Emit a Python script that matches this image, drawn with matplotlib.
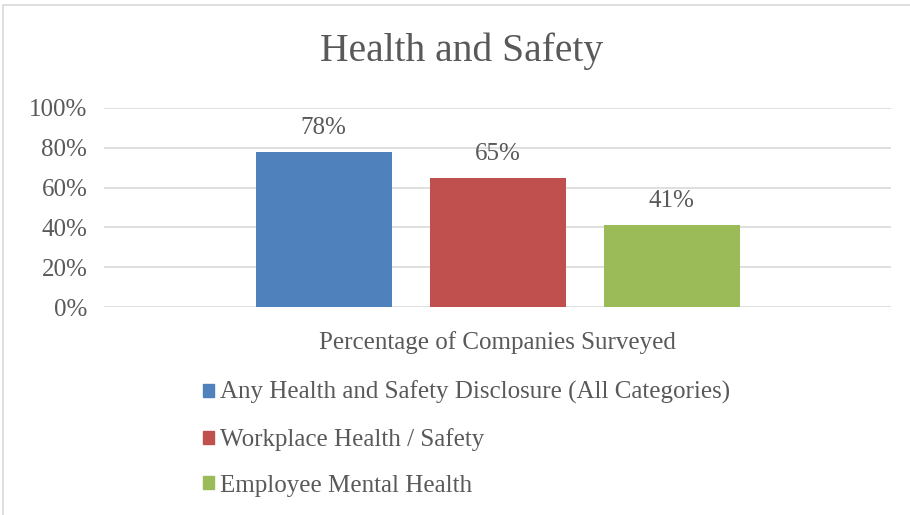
import matplotlib
matplotlib.use("Agg")
import matplotlib.pyplot as plt
from matplotlib.patches import Rectangle, Patch

plt.rcParams['font.family'] = ['Liberation Serif', 'DejaVu Serif']

title = "Health and Safety"
category = "Percentage of Companies Surveyed"
series_names = ["Any Health and Safety Disclosure (All Categories)",
                "Workplace Health / Safety",
                "Employee Mental Health"]
values = [0.78, 0.65, 0.41]
labels = ["78%", "65%", "41%"]
colors = ["#4F81BD", "#C0504D", "#9BBB59"]
yticks = [0, 0.2, 0.4, 0.6, 0.8, 1.0]
ytick_labels = ["0%", "20%", "40%", "60%", "80%", "100%"]

W, H = 910, 515
fig = plt.figure(figsize=(W/100, H/100), dpi=100)
ax = fig.add_axes([104/W, 1-307/H, 787/W, 199/H])

text_c = "#595959"
fs = 18
bw = 136/787
step = 174/787
for i, (v, lab, c) in enumerate(zip(values, labels, colors)):
    x = (i-1)*step
    ax.bar(x, v, width=bw, color=c, zorder=3)
    ax.text(x, v+0.065, lab, ha='center', va='bottom', fontsize=fs, color=text_c)

ax.set_xlim(-0.5, 0.5)
ax.set_ylim(0, 1)
ax.set_yticks(yticks)
ax.set_yticklabels(ytick_labels, fontsize=fs, color=text_c)
ax.set_xticks([0])
ax.set_xticklabels([category], fontsize=fs, color=text_c)
ax.tick_params(axis='y', length=0, pad=12)
ax.tick_params(axis='x', length=0, pad=17)
ax.grid(axis='y', color='#D9D9D9', linewidth=1.2, zorder=0)
for s in ax.spines.values():
    s.set_visible(False)

fig.text(462/W, 1-51/H, title, ha='center', va='center', fontsize=28.5, color=text_c)

handles = [Patch(color=c) for c in colors]
fig.legend(handles, series_names, loc='upper left', bbox_to_anchor=(203/W, 1-381/H),
           frameon=False, fontsize=fs, handlelength=0.42, handleheight=0.42,
           handletextpad=0.25, labelspacing=0.95, borderpad=0, borderaxespad=0,
           labelcolor=text_c)

fig.patches.append(Rectangle((3/W, -0.01), 1.2, 1-5/H+0.01, transform=fig.transFigure,
                             fill=False, edgecolor='#D9D9D9', linewidth=1.2))

fig.savefig("out.png", dpi=100)
